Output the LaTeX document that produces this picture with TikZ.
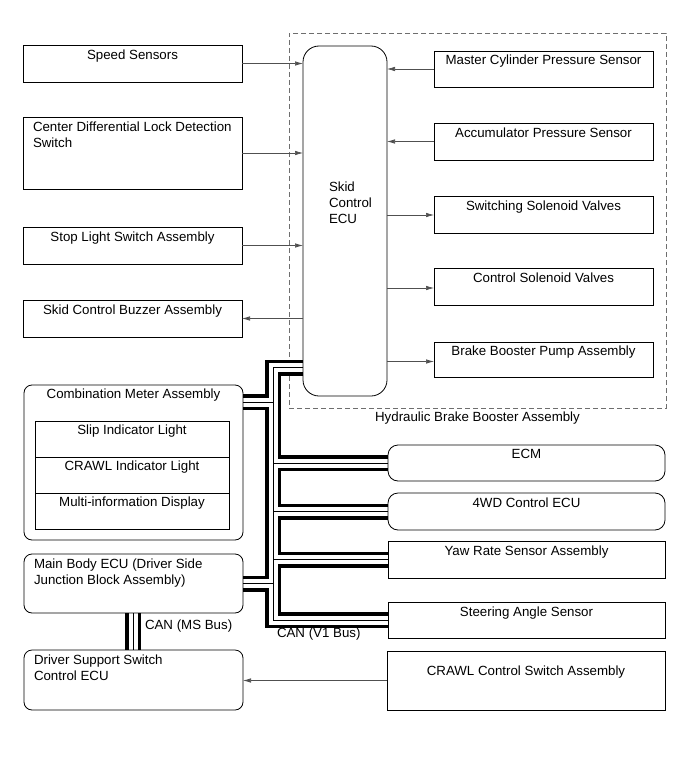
\documentclass[tikz,border=0pt]{standalone}
\usepackage{fontspec}
\setmainfont{Liberation Sans}
\usetikzlibrary{arrows.meta}
\pgfdeclarelayer{bg}
\pgfsetlayers{bg,main}
\definecolor{linegray}{RGB}{80,80,80}
\definecolor{dashgray}{RGB}{110,110,110}
\begin{document}
\begin{tikzpicture}[x=1pt,y=-1pt,
  box/.style={draw=black, line width=0.8pt, inner sep=0pt, outer sep=0pt},
  rbox/.style={box, rounded corners=8pt},
  txt/.style={inner sep=0pt, outer sep=0pt, font=\fontsize{13.3}{16}\selectfont, anchor=north},
  ltxt/.style={txt, anchor=north west, align=left},
  arr/.style={draw=linegray, line width=0.7pt, -{Latex[length=8pt,width=4.5pt]}},
  hyd/.style={draw=dashgray, line width=0.7pt, dash pattern=on 5pt off 3pt, inner sep=0pt}
]
\begin{pgfonlayer}{bg}
\fill[white] (0,0) rectangle (691,757);
% hydraulic brake booster assembly (dashed)
\node[hyd, minimum width=377pt, minimum height=375pt] (hba) at (477.5,220.5) {};
\end{pgfonlayer}
\useasboundingbox (0,0) rectangle (691,757);

\node[txt] (hbat) at ([yshift=-4pt]hba.south) {Hydraulic Brake Booster Assembly};

% skid control ECU
\node[box, rounded corners=16pt, minimum width=84pt, minimum height=350pt] (ecu) at (345,221) {};
\node[ltxt] (ecut) at (329,181.5) {Skid\\Control\\ECU};

% left column
\node[box, minimum width=219pt, minimum height=37pt] (speed) at (132.5,63.5) {};
\node[txt] (speedt) at ([yshift=-4.5pt]speed.north) {Speed Sensors};
\node[box, minimum width=219pt, minimum height=72pt] (cdl) at (132.5,153) {};
\node[ltxt] (cdlt) at (33,121.5) {Center Differential Lock Detection\\Switch};
\node[box, minimum width=219pt, minimum height=37pt] (stop) at (132.5,245.5) {};
\node[txt] (stopt) at ([yshift=-4.5pt]stop.north) {Stop Light Switch Assembly};
\node[box, minimum width=219pt, minimum height=37pt] (buzz) at (132.5,318.5) {};
\node[txt] (buzzt) at ([yshift=-4.5pt]buzz.north) {Skid Control Buzzer Assembly};

\node[rbox, minimum width=219pt, minimum height=155pt] (comb) at (133.5,462.5) {};
\node[txt] (combt) at ([yshift=-4pt]comb.north) {Combination Meter Assembly};
\node[box, minimum width=194pt, minimum height=36pt] (slip) at (132,439) {};
\node[txt] (slipt) at ([yshift=-4pt]slip.north) {Slip Indicator Light};
\node[box, minimum width=194pt, minimum height=36pt] (crawlind) at (132,475) {};
\node[txt] (crawlindt) at ([yshift=-4pt]crawlind.north) {CRAWL Indicator Light};
\node[box, minimum width=194pt, minimum height=36pt] (mid) at (132,511) {};
\node[txt] (midt) at ([yshift=-4pt]mid.north) {Multi-information Display};

\node[rbox, minimum width=219pt, minimum height=59pt] (mbecu) at (133.5,583.5) {};
\node[ltxt] (mbecut) at (34,558.5) {Main Body ECU (Driver Side\\Junction Block Assembly)};
\node[rbox, minimum width=219pt, minimum height=60pt] (dsecu) at (133.5,680) {};
\node[ltxt] (dsecut) at (34,654.5) {Driver Support Switch\\Control ECU};

% right column (inside hydraulic assembly)
\node[box, minimum width=219pt, minimum height=36pt] (mcps) at (543.5,69) {};
\node[txt] (mcpst) at ([yshift=-4pt]mcps.north) {Master Cylinder Pressure Sensor};
\node[box, minimum width=219pt, minimum height=37pt] (aps) at (543.5,141.5) {};
\node[txt] (apst) at ([yshift=-4.5pt]aps.north) {Accumulator Pressure Sensor};
\node[box, minimum width=219pt, minimum height=37pt] (ssv) at (543.5,214.5) {};
\node[txt] (ssvt) at ([yshift=-4.5pt]ssv.north) {Switching Solenoid Valves};
\node[box, minimum width=219pt, minimum height=37pt] (csv) at (543.5,286.5) {};
\node[txt] (csvt) at ([yshift=-4.5pt]csv.north) {Control Solenoid Valves};
\node[box, minimum width=219pt, minimum height=35pt] (bbpa) at (543.5,359.5) {};
\node[txt] (bbpat) at ([yshift=-4pt]bbpa.north) {Brake Booster Pump Assembly};

% lower right column
\node[box, rounded corners=10pt, minimum width=277pt, minimum height=36pt] (ecm) at (526.5,463) {};
\node[txt] (ecmt) at ([yshift=-4.5pt]ecm.north) {ECM};
\node[box, rounded corners=10pt, minimum width=277pt, minimum height=37pt] (fwd) at (526.5,511.5) {};
\node[txt] (fwdt) at ([yshift=-4.5pt]fwd.north) {4WD Control ECU};
\node[box, minimum width=277pt, minimum height=37pt] (yaw) at (526.5,559.5) {};
\node[txt] (yawt) at ([yshift=-4.5pt]yaw.north) {Yaw Rate Sensor Assembly};
\node[box, minimum width=277pt, minimum height=36pt] (sas) at (526.5,620) {};
\node[txt] (sast) at ([yshift=-4.5pt]sas.north) {Steering Angle Sensor};
\node[box, minimum width=278pt, minimum height=59pt] (crawl) at (526,680.5) {};
\node[txt] (crawlt) at (526,666) {CRAWL Control Switch Assembly};

% signal arrows
\draw[arr] (speed.east) -- (speed.east -| ecu.west);
\draw[arr] (cdl.east) -- (cdl.east -| ecu.west);
\draw[arr] (stop.east) -- (stop.east -| ecu.west);
\draw[arr] (buzz.east -| ecu.west) -- (buzz.east);
\draw[arr] (mcps.west) -- (mcps.west -| ecu.east);
\draw[arr] (aps.west) -- (aps.west -| ecu.east);
\draw[arr] ([yshift=-0.5pt]ssv.west -| ecu.east) -- ([yshift=-0.5pt]ssv.west);
\draw[arr] ([yshift=-1.5pt]csv.west -| ecu.east) -- ([yshift=-1.5pt]csv.west);
\draw[arr] ([yshift=-2pt]bbpa.west -| ecu.east) -- ([yshift=-2pt]bbpa.west);
\draw[arr] (crawl.west) -- (crawl.west -| dsecu.east);

% CAN buses
\coordinate (tTop) at (273,367.5);
\coordinate (tBot) at (273,620);
\coordinate (jComb) at (273,402);
\coordinate (jEcm) at (273,463);
\coordinate (jFwd) at (273,511.5);
\coordinate (jYaw) at (273,559.5);
\coordinate (jMb) at (273,583.5);
\coordinate (jMs) at (133,630);
\begin{pgfonlayer}{bg}
\foreach \w/\c in {16pt/black, 9pt/white, 0.7pt/black}{
  \draw[line width=\w, draw=\c, line join=miter, line cap=butt]
    (tTop -| ecu.west) -- (tTop) -- (tBot) -- (sas.west);
  \draw[line width=\w, draw=\c, line cap=butt] (jComb) -- (jComb -| comb.east);
  \draw[line width=\w, draw=\c, line cap=butt] (jMb) -- (jMb -| mbecu.east);
  \draw[line width=\w, draw=\c, line cap=butt] (jEcm) -- (jEcm -| ecm.west);
  \draw[line width=\w, draw=\c, line cap=butt] (jFwd) -- (jFwd -| fwd.west);
  \draw[line width=\w, draw=\c, line cap=butt] (jYaw) -- (jYaw -| yaw.west);
  \draw[line width=\w, draw=\c, line cap=butt] (jMs |- mbecu.south) -- (jMs |- dsecu.north);
}
\end{pgfonlayer}
\node[txt, anchor=base west] (msl) at (145,629.5) {CAN (MS Bus)};
\node[txt, anchor=base west] (v1l) at (277,637) {CAN (V1 Bus)};
\end{tikzpicture}
\end{document}
